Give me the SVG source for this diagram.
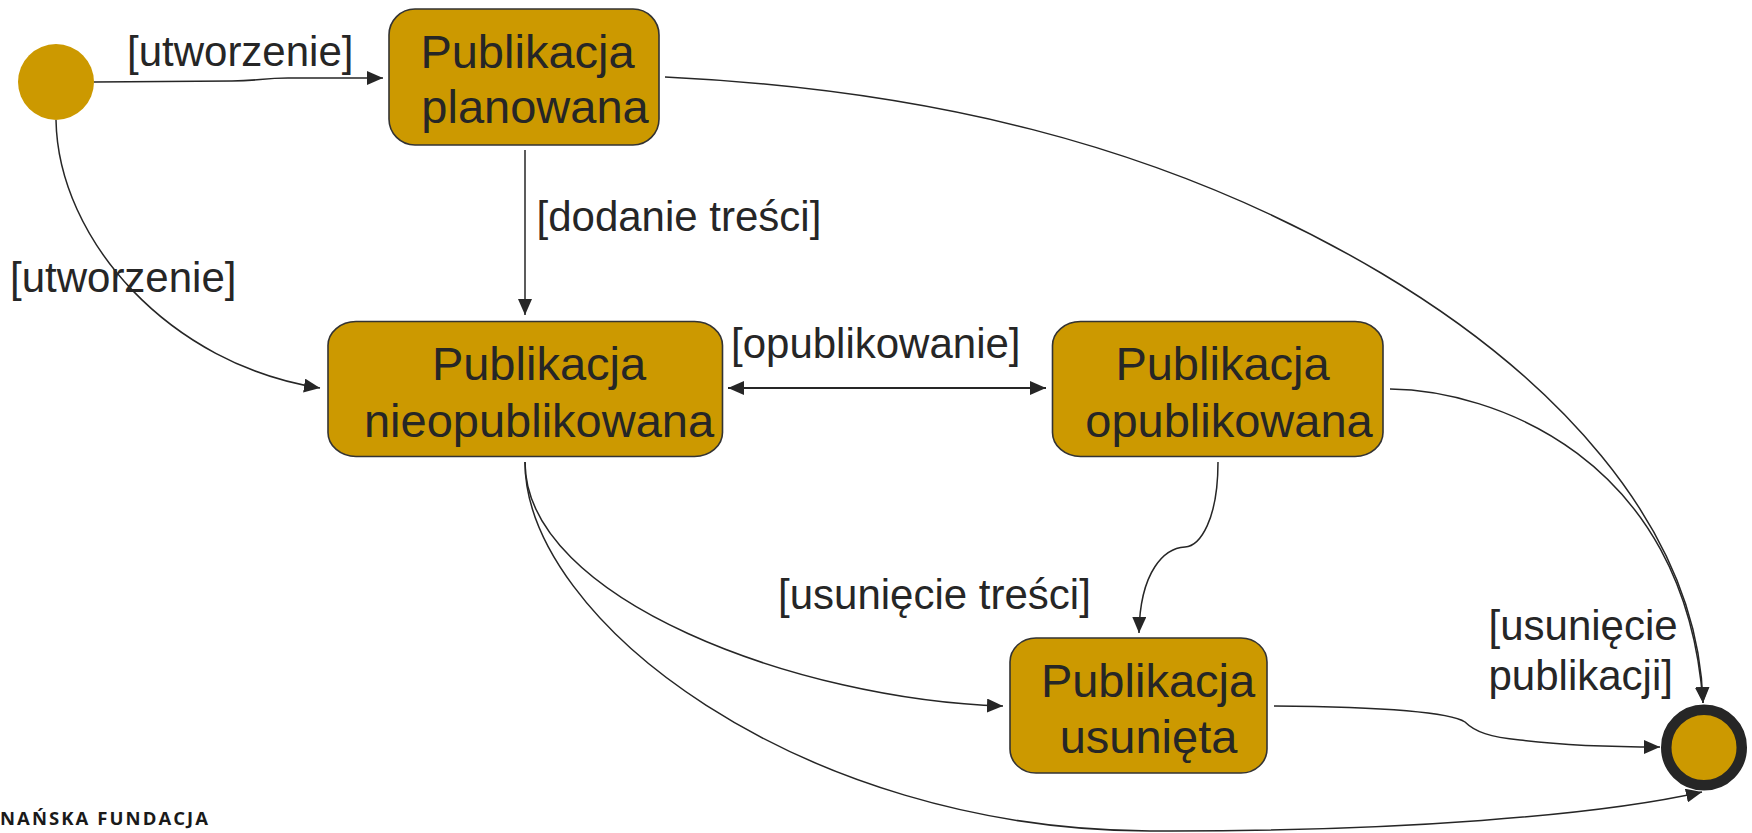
<svg xmlns="http://www.w3.org/2000/svg" width="1752" height="833" viewBox="0 0 1752 833">
<defs>
<style>
.node{fill:#CC9900;stroke:#333333;stroke-width:1.6}
.nt{font-family:"Liberation Sans",Arial,sans-serif;font-size:47px;fill:#262626;text-anchor:middle}
.lbl{font-family:"Liberation Sans",Arial,sans-serif;font-size:42px;fill:#262626}
.edge{fill:none;stroke:#262626;stroke-width:1.5}
</style>
<marker id="ah" markerUnits="userSpaceOnUse" markerWidth="16" markerHeight="14" refX="16" refY="7" orient="auto-start-reverse" viewBox="0 0 16 14">
<path d="M0,0 L16,7 L0,14 z" fill="#262626"/>
</marker>
</defs>
<rect width="1752" height="833" fill="#ffffff"/>

<g id="connectors">
<path class="edge" d="M94,82 L232,81 C258,81 262,78 288,78 L383,78" marker-end="url(#ah)"/>
<path class="edge" d="M56,120 C58,240 170,365 320,388" marker-end="url(#ah)"/>
<path class="edge" d="M525,150 L525,315" marker-end="url(#ah)"/>
<path class="edge" d="M665,77 C915,89 1157,140 1381,273 C1544,370 1698,520 1703,703" marker-end="url(#ah)"/>
<path class="edge" d="M1390,389 C1490,390 1685,455 1703,703" marker-end="url(#ah)"/>
<path class="edge" style="stroke-width:2.2" d="M728,388 L1046,388" marker-start="url(#ah)" marker-end="url(#ah)"/>
<path class="edge" d="M525,462 C525,600 800,700 1003,706" marker-end="url(#ah)"/>
<path class="edge" d="M525,462 C525,620 800,830 1150,831 C1400,832 1600,815 1702,792" marker-end="url(#ah)"/>
<path class="edge" d="M1218,462 C1218,520 1200,546 1185,547 C1165,548 1140,570 1139,633" marker-end="url(#ah)"/>
<path class="edge" d="M1274,706 C1380,707 1450,712 1465,722 C1475,732 1490,737 1520,740 C1560,745 1620,747 1660,747" marker-end="url(#ah)"/>
</g>

<g id="labels">
<text class="lbl" x="127" y="66">[utworzenie]</text>
<text class="lbl" x="10" y="292">[utworzenie]</text>
<text class="lbl" x="536.5" y="231">[dodanie treści]</text>
<text class="lbl" x="731" y="358">[opublikowanie]</text>
<text class="lbl" x="778" y="609">[usunięcie treści]</text>
<text class="lbl" x="1488.5" y="640">[usunięcie</text>
<text class="lbl" x="1488.5" y="690">publikacji]</text>
</g>

<g id="start">
<circle cx="56" cy="82" r="38" fill="#CC9900"/>
</g>

<g id="planowana">
<rect class="node" x="389" y="9" width="270" height="136" rx="26" ry="26"/>
<text class="nt" x="527.5" y="68">Publikacja</text>
<text class="nt" x="535" y="123">planowana</text>
</g>

<g id="nieopublikowana">
<rect class="node" x="328" y="321.5" width="394.5" height="135" rx="28" ry="24"/>
<text class="nt" x="539" y="380">Publikacja</text>
<text class="nt" x="539" y="436.5">nieopublikowana</text>
</g>

<g id="opublikowana">
<rect class="node" x="1052.5" y="321.5" width="330.5" height="135" rx="28" ry="24"/>
<text class="nt" x="1222.5" y="380">Publikacja</text>
<text class="nt" x="1229" y="436.5">opublikowana</text>
</g>

<g id="usunieta">
<rect class="node" x="1010" y="638" width="257" height="135" rx="26" ry="24"/>
<text class="nt" x="1148" y="696.5">Publikacja</text>
<text class="nt" x="1148.5" y="753">usunięta</text>
</g>

<g id="end">
<circle cx="1704" cy="747.5" r="37.75" fill="#CC9900" stroke="#262626" stroke-width="10.5"/>
</g>

<g id="logo">
<text x="0" y="825" font-family="'Open Sans',sans-serif" font-weight="700" font-size="18.5" fill="#1a1a1a" textLength="208" lengthAdjust="spacing">NAŃSKA FUNDACJA</text>
</g>
</svg>
